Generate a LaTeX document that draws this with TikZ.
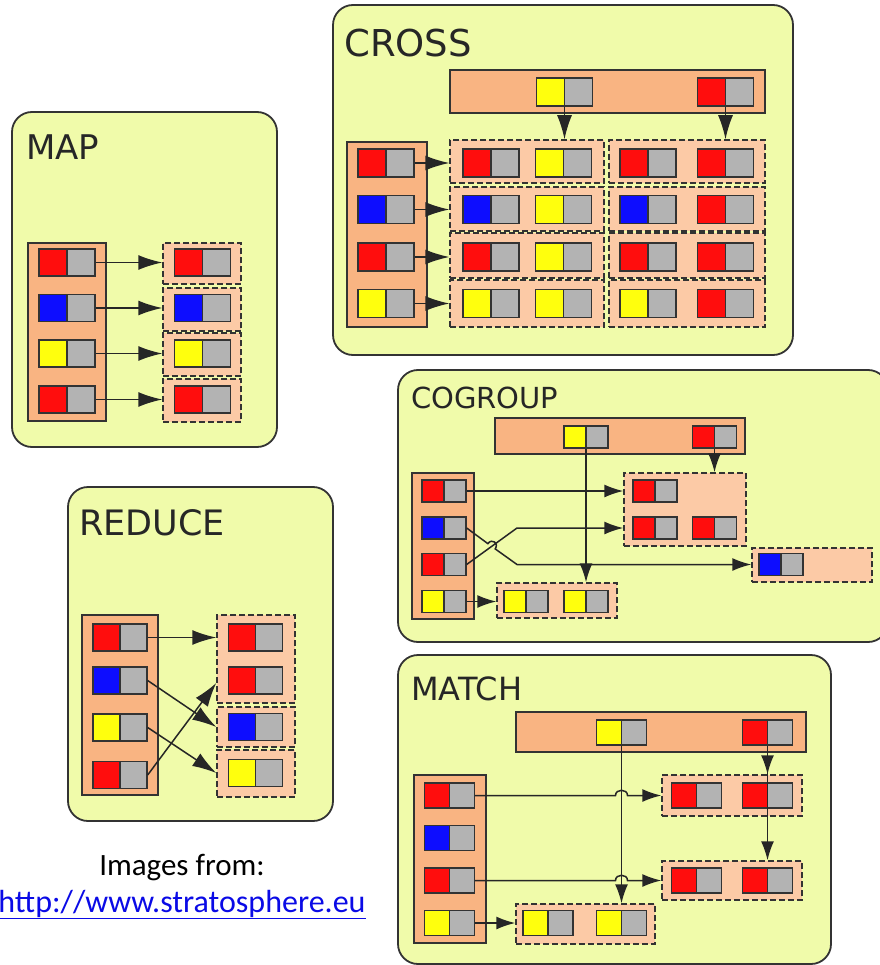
\documentclass[tikz,border=0pt]{standalone}
\usepackage{fontspec}
\newfontfamily\dejavu{DejaVu Sans}
\newfontfamily\carlito{Carlito}
\usetikzlibrary{arrows.meta,fit,calc}
\definecolor{panelc}{HTML}{F0FBAA}
\definecolor{contc}{HTML}{F9B482}
\definecolor{dboxc}{HTML}{FCCAA6}
\definecolor{outl}{HTML}{333333}
\definecolor{rred}{HTML}{FF0D0D}
\definecolor{rblue}{HTML}{0D0DFF}
\definecolor{ryellow}{HTML}{FFFF0D}
\definecolor{rgray}{HTML}{B3B3B3}
\definecolor{linkc}{HTML}{0A0AE6}
\begin{document}
\begin{tikzpicture}[x=1pt,y=-1pt,
 panel/.style={draw=outl, line width=1.8, fill=panelc, rounded corners=20, inner sep=0},
 cont/.style={draw=outl, line width=1.3, fill=contc, inner sep=0},
 dbox/.style={draw=outl, line width=1.5, dash pattern=on 6pt off 3pt, fill=dboxc, inner sep=0},
 rw/.style={minimum width=56, minimum height=27},
 rec/.style={rw, draw=outl, line width=1.3, fill=rgray, inner sep=0,
   path picture={\fill[#1] (path picture bounding box.south west) rectangle (path picture bounding box.north);
     \draw[outl, line width=1.3] (path picture bounding box.south) -- (path picture bounding box.north);}},
 arrbig/.style={draw=black!85, line width=1.5, -{Latex[length=24pt,width=15pt]}},
 arrsmall/.style={draw=black!85, line width=1.5, -{Latex[length=19pt,width=13pt]}},
 lbl/.style={anchor=base west, inner sep=0, text=black!85},
]
\useasboundingbox (0,0) rectangle (879,965);

% ================= MAP =================
\node[panel, fit={(12,112)(277,447)}] (mapP) {};
\node[lbl, font=\dejavu\fontsize{34}{34}\selectfont] (mapT) at (26,160) {MAP};
\node[cont, fit={(28,243)(106,421)}] (mapL) {};
\node[rec=rred] (mapL1) at (67,262.5) {};
\node[rec=rblue] (mapL2) at (67,308) {};
\node[rec=ryellow] (mapL3) at (67,353.5) {};
\node[rec=rred] (mapL4) at (67,399.5) {};
\node[dbox, fit={(163,243)(241,284)}] (mapO1) {};
\node[dbox, fit={(163,288)(241,331)}] (mapO2) {};
\node[dbox, fit={(163,333)(241,376)}] (mapO3) {};
\node[dbox, fit={(163,379)(241,422)}] (mapO4) {};
\node[rec=rred] (mapR1) at (202.5,262.5) {};
\node[rec=rblue] (mapR2) at (202.5,308) {};
\node[rec=ryellow] (mapR3) at (202.5,353.5) {};
\node[rec=rred] (mapR4) at (202.5,399.5) {};
\foreach \i in {1,...,4} \draw[arrbig] (mapL\i.east) -- (mapL\i.east -| mapO\i.west);

% ================= CROSS =================
\begin{scope}[rw/.style={minimum width=56, minimum height=28}]
\node[panel, fit={(333,5)(793,355)}] (crP) {};
\node[lbl, font=\dejavu\fontsize{37}{37}\selectfont] (crTl) at (344,57) {CROSS};
\node[cont, fit={(450,70)(765,113)}] (crT) {};
\node[rec=ryellow] (crT1) at (564.5,92) {};
\node[rec=rred] (crT2) at (725.5,92) {};
\node[cont, fit={(347,142)(427,327)}] (crL) {};
\node[rec=rred] (crL1) at (386,163) {};
\node[rec=rblue] (crL2) at (386,209.5) {};
\node[rec=rred] (crL3) at (386,257) {};
\node[rec=ryellow] (crL4) at (386,303.5) {};
\node[dbox, fit={(450,140)(604,183)}] (crA1) {};
\node[dbox, fit={(450,187)(604,231)}] (crA2) {};
\node[dbox, fit={(450,233)(604,278)}] (crA3) {};
\node[dbox, fit={(450,280)(604,327)}] (crA4) {};
\node[dbox, fit={(609,140)(765,183)}] (crB1) {};
\node[dbox, fit={(609,187)(765,231)}] (crB2) {};
\node[dbox, fit={(609,233)(765,278)}] (crB3) {};
\node[dbox, fit={(609,280)(765,327)}] (crB4) {};
% row 1
\node[rec=rred] (cr11) at (491,163) {};
\node[rec=ryellow] (cr12) at (563.5,163) {};
\node[rec=rred] (cr13) at (648,163) {};
\node[rec=rred] (cr14) at (725.5,163) {};
% row 2
\node[rec=rblue] (cr21) at (491,209.5) {};
\node[rec=ryellow] (cr22) at (563.5,209.5) {};
\node[rec=rblue] (cr23) at (648,209.5) {};
\node[rec=rred] (cr24) at (725.5,209.5) {};
% row 3
\node[rec=rred] (cr31) at (491,257) {};
\node[rec=ryellow] (cr32) at (563.5,257) {};
\node[rec=rred] (cr33) at (648,257) {};
\node[rec=rred] (cr34) at (725.5,257) {};
% row 4
\node[rec=ryellow] (cr41) at (491,303.5) {};
\node[rec=ryellow] (cr42) at (563.5,303.5) {};
\node[rec=ryellow] (cr43) at (648,303.5) {};
\node[rec=rred] (cr44) at (725.5,303.5) {};
\foreach \i in {1,...,4} \draw[arrbig] (crL\i.east) -- (crL\i.east -| crA\i.west);
\draw[arrbig] (crT1.south) -- (crT1.south |- crA1.north);
\draw[arrbig] (crT2.south) -- (crT2.south |- crB1.north);
\end{scope}

% ================= REDUCE =================
\begin{scope}[rw/.style={minimum width=54, minimum height=27}]
\node[panel, fit={(68,487)(333,821)}] (reP) {};
\node[lbl, font=\dejavu\fontsize{35}{35}\selectfont] (reTl) at (79,535) {REDUCE};
\node[cont, fit={(82,615)(158,795)}] (reL) {};
\node[rec=rred] (reL1) at (120,637.5) {};
\node[rec=rblue] (reL2) at (120,680.5) {};
\node[rec=ryellow] (reL3) at (120,727.5) {};
\node[rec=rred] (reL4) at (120,775) {};
\node[dbox, fit={(217,615)(295,703)}] (reO1) {};
\node[dbox, fit={(217,707)(295,747)}] (reO2) {};
\node[dbox, fit={(217,750)(295,797)}] (reO3) {};
\node[rec=rred] (reR1) at (255.5,637.5) {};
\node[rec=rred] (reR2) at (255.5,680.5) {};
\node[rec=rblue] (reR3) at (255.5,727) {};
\node[rec=ryellow] (reR4) at (255.5,773) {};
\draw[arrbig] (reL1.east) -- (reL1.east -| reO1.west);
\draw[arrbig] (reL2.east) -- (reO2.west);
\draw[arrbig] (reL3.east) -- (reO3.west |- reR4.center);
\draw[arrbig] (reL4.east) -- ($(reO1.west |- reR2.center)+(0,2.5)$);
\end{scope}

% ================= COGROUP =================
\begin{scope}[rw/.style={minimum width=44, minimum height=22}]
\node[panel, fit={(398,370)(888,642)}] (cgP) {};
\node[lbl, font=\dejavu\fontsize{29}{29}\selectfont] (cgTl) at (411,408) {COGROUP};
\node[cont, fit={(495,418)(745,454)}] (cgT) {};
\node[rec=ryellow] (cgT1) at (586,437) {};
\node[rec=rred] (cgT2) at (714.5,437) {};
\node[cont, fit={(412,473)(474,619)}] (cgL) {};
\node[rec=rred] (cgL1) at (444,491) {};
\node[rec=rblue] (cgL2) at (444,528) {};
\node[rec=rred] (cgL3) at (444,564.5) {};
\node[rec=ryellow] (cgL4) at (444,601.5) {};
\node[dbox, fit={(624,473)(746,546)}] (cgA) {};
\node[dbox, fit={(752,548)(872,582)}] (cgB) {};
\node[dbox, fit={(497,583)(617,618)}] (cgC) {};
\node[rec=rred] (cgA1) at (655,491) {};
\node[rec=rred] (cgA2) at (655,528) {};
\node[rec=rred] (cgA3) at (714.5,528) {};
\node[rec=rblue] (cgB1) at (781,564.5) {};
\node[rec=ryellow] (cgC1) at (526,601.5) {};
\node[rec=ryellow] (cgC2) at (586,601.5) {};
\draw[arrsmall] (cgL1.east) -- (cgL1.east -| cgA.west);
\draw[arrsmall] (cgL3.east) -- (517,528) -- (cgL2.east -| cgA.west);
\draw[arrsmall] (cgL2.east) -- (487.84,543.63) .. controls (491.91,537.94) and (499.23,543.18) .. (495.16,548.87) -- (517,564.5) -- (cgL3.east -| cgB.west);
\draw[arrsmall] (cgL4.east) -- (cgL4.east -| cgC.west);
\draw[arrsmall] (cgT1.south) -- (cgT1.south |- cgC.north);
\draw[arrsmall] (cgT2.south) -- (cgT2.south |- cgA.north);
\end{scope}

% ================= MATCH =================
\begin{scope}[rw/.style={minimum width=50, minimum height=25}]
\node[panel, fit={(398,655)(831,964)}] (maP) {};
\node[lbl, font=\dejavu\fontsize{32}{32}\selectfont] (maTl) at (411,700) {MATCH};
\node[cont, fit={(516,712)(806,752)}] (maT) {};
\node[rec=ryellow] (maT1) at (621.5,732.5) {};
\node[rec=rred] (maT2) at (767.5,732.5) {};
\node[cont, fit={(414,775)(486,943)}] (maL) {};
\node[rec=rred] (maL1) at (449.5,795.5) {};
\node[rec=rblue] (maL2) at (449.5,838) {};
\node[rec=rred] (maL3) at (449.5,880.5) {};
\node[rec=ryellow] (maL4) at (449.5,923) {};
\node[dbox, fit={(662,775)(802,816)}] (maD) {};
\node[dbox, fit={(662,861)(802,900)}] (maE) {};
\node[dbox, fit={(516,904)(655,944)}] (maF) {};
\node[rec=rred] (maD1) at (696.5,795.5) {};
\node[rec=rred] (maD2) at (767.5,795.5) {};
\node[rec=rred] (maE1) at (696.5,880.5) {};
\node[rec=rred] (maE2) at (767.5,880.5) {};
\node[rec=ryellow] (maF1) at (548,923) {};
\node[rec=ryellow] (maF2) at (621.5,923) {};
\draw[arrsmall] (maT1.south) -- (maT1.south |- maF.north);
\draw[arrsmall] (maL1.east) -- ($(maL1.east -| maT1.south)+(-6,0)$) .. controls +(0,-7) and +(0,-7) .. ($(maL1.east -| maT1.south)+(6,0)$) -- (maL1.east -| maD.west);
\draw[arrsmall] (maL3.east) -- ($(maL3.east -| maT1.south)+(-6,0)$) .. controls +(0,-7) and +(0,-7) .. ($(maL3.east -| maT1.south)+(6,0)$) -- (maL3.east -| maE.west);
\draw[arrsmall] (maL4.east) -- (maL4.east -| maF.west);
\draw[arrsmall] (maT2.south) -- (maT2.south |- maD.north);
\draw[arrsmall] (maT2.south) -- (maT2.south |- maE.north);
\end{scope}

% ================= source =================
\node[anchor=base, inner sep=0, font=\carlito\fontsize{31}{31}\selectfont] (src1) at (182,875) {Images from:};
\node[anchor=base, inner sep=0, font=\carlito\fontsize{32}{32}\selectfont, text=linkc] (src2) at (182,912) {\underline{http://www.stratosphere.eu}};
\end{tikzpicture}
\end{document}
